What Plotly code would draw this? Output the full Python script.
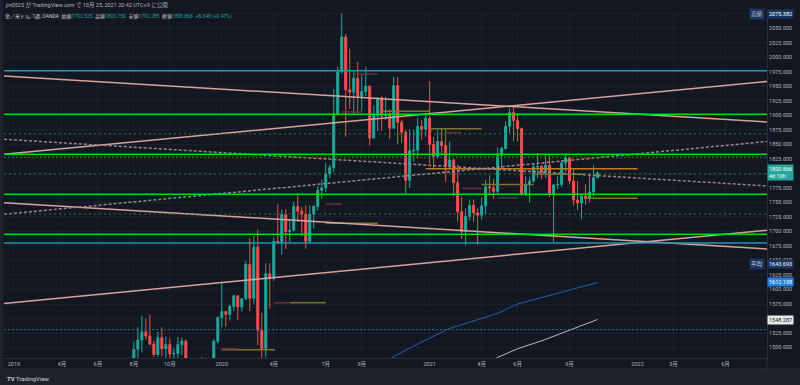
import pandas as pd
import plotly.graph_objects as go

# ---------------- data ----------------
week_start = "2019-08-05"   # first weekly bar (Mondays, 1 bar / week)

opens = [1440, 1497, 1513, 1527, 1520, 1506, 1488, 1517, 1498, 1505, 1489, 1490, 1505, 1511, 1459, 1468, 1462, 1463, 1460, 1476, 1479, 1511,
         1552, 1562, 1557, 1571, 1589, 1570, 1584, 1643, 1585, 1673, 1530, 1498, 1627, 1619, 1683, 1681, 1729, 1700, 1702, 1743, 1735, 1730,
         1683, 1730, 1743, 1771, 1775, 1799, 1810, 1902, 1975, 2035, 1944, 1940, 1964, 1933, 1941, 1950, 1861, 1900, 1930, 1899, 1902, 1878,
         1951, 1888, 1871, 1788, 1839, 1840, 1881, 1876,
         1895, 1850, 1829, 1855, 1848, 1813, 1823, 1784, 1734, 1700, 1726, 1745, 1732, 1728, 1744, 1777, 1775, 1769, 1831, 1843, 1881, 1905,
         1891, 1877, 1764, 1781, 1787, 1811, 1812, 1802, 1814, 1763, 1780, 1781, 1818, 1827, 1787, 1754, 1749, 1761, 1757, 1768, 1792.525]
highs = [1510, 1535, 1555, 1550, 1557, 1512, 1527, 1535, 1519, 1516, 1499, 1518, 1517, 1514, 1475, 1478, 1465, 1484, 1480, 1482, 1514, 1553,
         1611, 1563, 1574, 1591, 1590, 1584, 1649, 1689, 1692, 1703, 1560, 1645, 1645, 1690, 1747, 1738, 1738, 1722, 1751, 1765, 1742, 1745,
         1745, 1745, 1779, 1789, 1818, 1815, 1945, 1984, 2075.382, 2040, 2015, 1977, 1992, 1972, 1983, 1952, 1917, 1931, 1933, 1932, 1911, 1966,
         1966, 1892, 1875, 1876, 1875, 1896, 1892, 1904,
         1959, 1863, 1875, 1876, 1875, 1855, 1825, 1815, 1760, 1740, 1755, 1755, 1740, 1758, 1789, 1797, 1790, 1845, 1846, 1890, 1912, 1916,
         1903, 1879, 1795, 1795, 1818, 1834, 1815, 1832, 1832, 1782, 1795, 1823, 1834, 1827, 1809, 1787, 1764, 1781, 1800, 1814, 1803.75]
lows = [1437, 1480, 1492, 1514, 1504, 1484, 1484, 1485, 1459, 1474, 1480, 1481, 1487, 1456, 1445, 1456, 1451, 1458, 1455, 1471, 1477, 1507,
        1535, 1536, 1547, 1563, 1547, 1562, 1582, 1563, 1576, 1504, 1451, 1483, 1567, 1615, 1680, 1660, 1670, 1682, 1700, 1717, 1692, 1670,
        1683, 1705, 1736, 1757, 1768, 1792, 1802, 1900, 1972, 1863, 1911, 1902, 1902, 1907, 1933, 1848, 1860, 1873, 1873, 1892, 1859, 1877,
        1850, 1853, 1764, 1775, 1820, 1826, 1858, 1863,
        1817, 1808, 1826, 1831, 1785, 1806, 1760, 1717, 1687, 1676, 1719, 1717, 1677, 1721, 1730, 1762, 1756, 1765, 1808, 1841, 1870, 1856,
        1855, 1761, 1761, 1750, 1784, 1792, 1790, 1792, 1759, 1682, 1773, 1777, 1802, 1781, 1745, 1737, 1721, 1746, 1750, 1760, 1792.285]
closes = [1497, 1513, 1527, 1520, 1506, 1488, 1517, 1498, 1505, 1489, 1490, 1505, 1511, 1459, 1468, 1462, 1463, 1460, 1476, 1479, 1511, 1552,
          1562, 1557, 1571, 1589, 1570, 1584, 1643, 1585, 1673, 1530, 1498, 1627, 1619, 1683, 1681, 1729, 1700, 1702, 1743, 1735, 1730, 1683,
          1730, 1743, 1771, 1775, 1799, 1810, 1902, 1975, 2035, 1944, 1940, 1964, 1933, 1941, 1950, 1861, 1900, 1930, 1899, 1902, 1878, 1951,
          1888, 1871, 1788, 1839, 1840, 1881, 1876, 1895,
          1850, 1829, 1855, 1848, 1813, 1823, 1784, 1734, 1700, 1726, 1745, 1732, 1728, 1744, 1777, 1775, 1769, 1831, 1843, 1881, 1905, 1891,
          1877, 1764, 1781, 1787, 1811, 1812, 1802, 1814, 1763, 1780, 1781, 1818, 1827, 1787, 1754, 1749, 1761, 1757, 1768, 1792.525, 1800.866]

# moving averages (read at a few dates)
ma_blue_dates = ["2020-10-12", "2020-11-16", "2020-12-28", "2021-02-08", "2021-03-29", "2021-05-03",
                 "2021-06-07", "2021-07-26", "2021-09-06", "2021-10-25"]
ma_blue_vals = [1472, 1492, 1513, 1533, 1548, 1559, 1575, 1588, 1600, 1612.108]
ma_white_dates = ["2021-04-19", "2021-05-03", "2021-06-07", "2021-07-26", "2021-09-06", "2021-10-25"]
ma_white_vals = [1475, 1483, 1498, 1514, 1530, 1548.287]

# horizontal levels
green_levels = [1902, 1833, 1764, 1695]
cyan_levels = [1977, 1680]
green_dot_levels = [1868, 1799, 1730]
teal_dot_levels = [1828, 1531]

# trend lines (left edge -> right edge)
tl_x0 = "2018-12-20 14:00"
tl_x1 = "2022-08-17 17:00"
tl_p0 = [1967.8, 1832.9, 1749.6, 1576.0, 1858.8, 1729.6]
tl_p1 = [1888.6, 1958.5, 1669.8, 1702.0, 1778.4, 1855.0]
tl_dotted = [False, False, False, False, True, True]

# short indicator segments
seg_start = ["2020-01-06", "2020-01-06", "2020-04-06", "2020-05-04", "2020-07-06", "2020-07-06", "2020-08-24",
             "2020-08-03", "2020-10-12", "2021-01-04", "2020-12-28", "2021-02-01", "2021-03-01", "2021-04-05",
             "2021-05-03", "2021-07-05", "2021-10-04"]
seg_end = ["2020-04-08", "2020-02-03", "2020-05-04", "2020-07-06", "2020-08-03", "2020-10-05", "2020-10-05",
           "2020-09-07", "2021-01-04", "2021-04-05", "2022-01-03", "2021-03-01", "2021-04-05", "2021-07-05",
           "2021-06-07", "2021-10-04", "2022-01-03"]
seg_price = [1496, 1498, 1577, 1577, 1747, 1714, 1971, 1906, 1907, 1877, 1808, 1870, 1774, 1781, 1758, 1798.5, 1757]
seg_kind = ["olive", "maroon", "maroon", "olive", "maroon", "olive", "maroon", "maroon", "olive", "olive",
            "orange", "maroon", "maroon", "olive", "maroon", "olive", "olive"]

tick_dates = ["2019-01-07", "2019-04-01", "2019-06-03", "2019-08-05", "2019-10-07", "2020-01-06", "2020-04-06",
              "2020-07-06", "2020-09-07", "2021-01-04", "2021-04-05", "2021-06-07", "2021-09-06", "2022-01-03",
              "2022-03-07", "2022-06-06"]
tick_labels = ["2019", "4月", "6月", "8月", "10月", "2020", "4月", "7月", "9月", "2021", "4月", "6月", "9月",
               "2022", "3月", "6月"]

# ---------------- style ----------------
BG = "#131722"
FRAME = "#1e222d"
UP = "#26a69a"
DOWN = "#ef5350"
TXT = "#b2b5be"
FONT = "Roboto, 'Noto Sans CJK JP', sans-serif"
seg_colors = {"olive": "#7d7330", "maroon": "#6e2a3a", "orange": "#c07a26"}

W, H = 800, 385
ML, MR, MT, MB = 4, 33, 10, 27
PW, PH = W - ML - MR, H - MT - MB


def px(xp):
    return (xp - ML) / PW


def py(yp):
    return (H - MB - yp) / PH


dates = pd.date_range(week_start, periods=len(closes), freq="7D")

fig = go.Figure()

fig.add_trace(go.Candlestick(
    x=dates, open=opens, high=highs, low=lows, close=closes,
    increasing=dict(line=dict(color=UP, width=1), fillcolor=UP),
    decreasing=dict(line=dict(color=DOWN, width=1), fillcolor=DOWN),
    whiskerwidth=0, showlegend=False, hoverinfo="skip"))

# indicator segments
for kind, col in seg_colors.items():
    xs, ys = [], []
    for s, e, p, k in zip(seg_start, seg_end, seg_price, seg_kind):
        if k == kind:
            xs += [s, e, None]
            ys += [p, p, None]
    fig.add_trace(go.Scatter(x=xs, y=ys, mode="lines", line=dict(color=col, width=1.5),
                             showlegend=False, hoverinfo="skip"))

# moving averages
fig.add_trace(go.Scatter(x=ma_blue_dates, y=ma_blue_vals, mode="lines", line=dict(color="#2462a8", width=1),
                         showlegend=False, hoverinfo="skip"))
fig.add_trace(go.Scatter(x=ma_white_dates, y=ma_white_vals, mode="lines", line=dict(color="#b8b8c0", width=1),
                         showlegend=False, hoverinfo="skip"))

# horizontal levels
for lv in green_dot_levels:
    fig.add_hline(y=lv, line=dict(color="#2e7d32", width=1, dash="2px,3px"))
for lv in teal_dot_levels:
    fig.add_hline(y=lv, line=dict(color="#2a6f82", width=1, dash="2px,2px"))
for lv in cyan_levels:
    fig.add_hline(y=lv, line=dict(color="#2196b8", width=1.5))
for lv in green_levels:
    fig.add_hline(y=lv, line=dict(color="#00dd00", width=1.5))

# trend lines
for p0, p1, dot in zip(tl_p0, tl_p1, tl_dotted):
    fig.add_trace(go.Scatter(
        x=[tl_x0, tl_x1], y=[p0, p1], mode="lines",
        line=dict(color="#9c8590" if dot else "#dba2a2", width=1.5, dash="3px,2px" if dot else "solid"),
        showlegend=False, hoverinfo="skip"))

# frame shapes (outside plot area)
fig.add_shape(type="rect", xref="paper", yref="paper", x0=px(0), x1=px(W), y0=py(H), y1=py(369),
              fillcolor=FRAME, line=dict(width=0), layer="below")
fig.add_shape(type="rect", xref="paper", yref="paper", x0=px(0), x1=px(3), y0=py(H), y1=py(0),
              fillcolor=FRAME, line=dict(width=0), layer="below")
fig.add_shape(type="line", xref="paper", yref="paper", x0=1, x1=1, y0=py(369), y1=0,
              line=dict(color="#2a2e39", width=1))
fig.add_shape(type="line", xref="paper", yref="paper", x0=px(3), x1=px(W), y0=py(369), y1=py(369),
              line=dict(color="#2a2e39", width=1))

ann = []
# header
ann.append(dict(x=px(3), y=py(5), xref="paper", yref="paper", xanchor="left", yanchor="middle", showarrow=False,
                text="jin0525 が TradingView.com で 10月 25, 2021 20:42 UTC+9 に公開",
                font=dict(size=5.5, color=TXT, family=FONT)))
V = "<span style='color:#26a69a'>%s</span>"
ann.append(dict(x=px(3), y=py(16.5), xref="paper", yref="paper", xanchor="left", yanchor="middle", showarrow=False,
                text="金／米ドル, 1週, OANDA  始値" + V % "1792.525" + "  高値" + V % "1803.750" + "  安値" + V % "1792.285"
                     + "  終値" + V % "1800.866" + "  " + V % "+8.340 (+0.47%)",
                font=dict(size=5, color="#d1d4dc", family=FONT)))
# footer logo
ann.append(dict(x=px(5), y=py(378), xref="paper", yref="paper", xanchor="left", yanchor="middle", showarrow=False,
                text="<b>TV</b> TradingView", font=dict(size=6, color="#d1d4dc", family=FONT)))

# price-scale labels
def axis_label(price, text, bg, fg="#ffffff"):
    ann.append(dict(x=1.0, y=price, xref="paper", yref="y", xanchor="left", yanchor="middle", showarrow=False,
                    text=text, bgcolor=bg, borderpad=1, align="left", font=dict(size=5.5, color=fg, family=FONT)))


def side_label(price, text, bg):
    ann.append(dict(x=px(765), y=price, xref="paper", yref="y", xanchor="right", yanchor="middle", showarrow=False,
                    text=text, bgcolor=bg, borderpad=1, font=dict(size=5.5, color="#d1d4dc", family=FONT)))


axis_label(highs[52], "%.3f" % highs[52], "#1d3561")
side_label(highs[52], "高値", "#1d3561")
axis_label(closes[-1], "%.3f<br>4d 10h" % closes[-1], UP)
axis_label(1643.693, "1643.693", "#1d3561")
side_label(1643.693, "平均", "#1d3561")
axis_label(ma_blue_vals[-1], "%.3f" % ma_blue_vals[-1], "#2a82e0")
axis_label(ma_white_vals[-1], "%.3f" % ma_white_vals[-1], "#e8e8ec", "#131722")

fig.update_layout(
    width=W, height=H, margin=dict(l=ML, r=MR, t=MT, b=MB),
    paper_bgcolor=BG, plot_bgcolor=BG, showlegend=False,
    font=dict(family=FONT, color=TXT, size=5.5),
    annotations=ann,
    xaxis=dict(type="date", range=[tl_x0, tl_x1], tickvals=tick_dates, ticktext=tick_labels,
               tickfont=dict(size=5.5, color=TXT), showgrid=True, gridcolor="#1b1f2a", gridwidth=1,
               showline=True, linecolor="#2a2e39", ticks="", zeroline=False,
               rangeslider=dict(visible=False), fixedrange=True),
    yaxis=dict(side="right", range=[1482.0, 2081.5], dtick=25, tick0=0, tickformat=".3f",
               tickfont=dict(size=5.5, color=TXT), showgrid=True, gridcolor="#1b1f2a", gridwidth=1,
               showline=True, linecolor="#2a2e39", ticks="", zeroline=False, fixedrange=True),
)

fig.write_html("out.html", config={"displayModeBar": False},
               post_script="document.body.style.margin='0';document.body.style.background='#131722';")
